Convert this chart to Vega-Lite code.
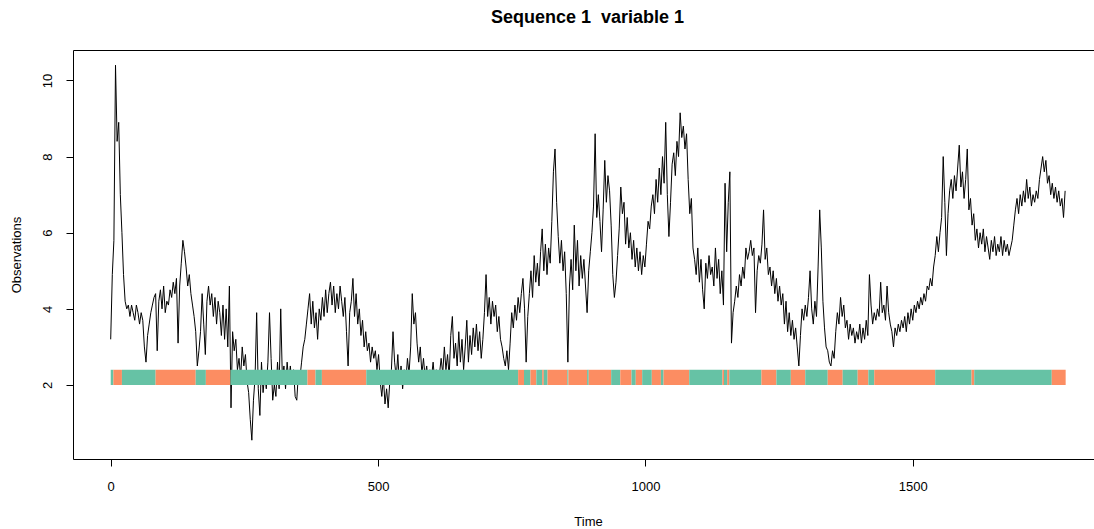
{
"$schema":"https://vega.github.io/schema/vega-lite/v6.json",
"autosize":{"type":"none"},
"width":1021,"height":409,
"padding":{"left":73,"top":50,"right":0,"bottom":70},
"background":"white",
"config":{"view":{"stroke":null},"font":"Liberation Sans"},
"datasets":{
"series":[
{"t":0,"v":3.2},{"t":3,"v":4.9},{"t":6,"v":5.8},{"t":9,"v":10.4},{"t":12,"v":8.4},{"t":15,"v":8.9},{"t":18,"v":7.0},{"t":21,"v":6.0},{"t":24,"v":4.9},{"t":27,"v":4.2},{"t":30,"v":4.0},{"t":33,"v":4.1},{"t":36,"v":3.8},{"t":39,"v":4.1},{"t":42,"v":3.9},{"t":45,"v":3.7},{"t":48,"v":4.1},{"t":51,"v":3.9},{"t":54,"v":3.6},{"t":57,"v":3.9},{"t":60,"v":3.7},{"t":63,"v":3.0},{"t":66,"v":2.6},{"t":69,"v":3.3},{"t":72,"v":3.6},{"t":75,"v":3.9},{"t":78,"v":4.1},{"t":81,"v":4.3},{"t":84,"v":4.4},{"t":87,"v":2.9},{"t":90,"v":4.2},{"t":93,"v":4.5},{"t":96,"v":4.0},{"t":99,"v":4.6},{"t":102,"v":3.9},{"t":105,"v":4.2},{"t":108,"v":4.1},{"t":111,"v":4.5},{"t":114,"v":4.3},{"t":117,"v":4.7},{"t":120,"v":4.4},{"t":123,"v":4.8},{"t":126,"v":3.1},{"t":129,"v":4.6},{"t":132,"v":5.2},{"t":135,"v":5.8},{"t":138,"v":5.5},{"t":141,"v":5.1},{"t":144,"v":4.6},{"t":147,"v":4.9},{"t":150,"v":4.4},{"t":153,"v":4.1},{"t":156,"v":3.8},{"t":159,"v":3.4},{"t":162,"v":2.5},{"t":165,"v":2.9},{"t":168,"v":3.4},{"t":171,"v":4.4},{"t":174,"v":3.6},{"t":177,"v":2.8},{"t":180,"v":4.2},{"t":183,"v":4.6},{"t":186,"v":4.1},{"t":189,"v":4.4},{"t":192,"v":3.8},{"t":195,"v":4.3},{"t":198,"v":3.6},{"t":201,"v":4.2},{"t":204,"v":3.9},{"t":207,"v":3.3},{"t":210,"v":4.1},{"t":213,"v":3.2},{"t":216,"v":4.0},{"t":219,"v":3.0},{"t":222,"v":4.6},{"t":225,"v":1.4},{"t":228,"v":3.4},{"t":231,"v":2.9},{"t":234,"v":3.2},{"t":237,"v":2.4},{"t":240,"v":2.7},{"t":243,"v":2.2},{"t":246,"v":3.0},{"t":249,"v":2.5},{"t":252,"v":2.8},{"t":255,"v":2.1},{"t":258,"v":1.8},{"t":261,"v":1.1},{"t":264,"v":0.55},{"t":267,"v":1.6},{"t":270,"v":2.2},{"t":273,"v":3.9},{"t":276,"v":1.9},{"t":279,"v":1.2},{"t":282,"v":2.6},{"t":285,"v":1.8},{"t":288,"v":2.3},{"t":291,"v":1.9},{"t":294,"v":2.6},{"t":297,"v":3.9},{"t":300,"v":2.7},{"t":303,"v":1.6},{"t":306,"v":2.0},{"t":309,"v":1.7},{"t":312,"v":2.6},{"t":315,"v":1.9},{"t":318,"v":4.0},{"t":321,"v":2.2},{"t":324,"v":2.5},{"t":327,"v":1.9},{"t":330,"v":2.6},{"t":333,"v":2.1},{"t":336,"v":2.5},{"t":339,"v":2.0},{"t":342,"v":2.4},{"t":345,"v":1.7},{"t":348,"v":1.6},{"t":351,"v":2.3},{"t":354,"v":2.2},{"t":357,"v":2.6},{"t":360,"v":3.0},{"t":363,"v":3.2},{"t":366,"v":3.6},{"t":369,"v":4.0},{"t":372,"v":4.4},{"t":375,"v":3.6},{"t":378,"v":4.2},{"t":381,"v":3.5},{"t":384,"v":3.9},{"t":387,"v":3.2},{"t":390,"v":4.0},{"t":393,"v":3.7},{"t":396,"v":4.3},{"t":399,"v":3.8},{"t":402,"v":4.5},{"t":405,"v":3.9},{"t":408,"v":4.4},{"t":411,"v":4.7},{"t":414,"v":4.1},{"t":417,"v":4.6},{"t":420,"v":3.9},{"t":423,"v":4.4},{"t":426,"v":4.0},{"t":429,"v":4.6},{"t":432,"v":4.2},{"t":435,"v":3.8},{"t":438,"v":4.3},{"t":441,"v":3.4},{"t":444,"v":2.5},{"t":447,"v":3.9},{"t":450,"v":4.2},{"t":453,"v":4.8},{"t":456,"v":3.8},{"t":459,"v":4.4},{"t":462,"v":3.6},{"t":465,"v":4.0},{"t":468,"v":3.3},{"t":471,"v":3.7},{"t":474,"v":3.0},{"t":477,"v":3.4},{"t":480,"v":2.9},{"t":483,"v":3.1},{"t":486,"v":2.6},{"t":489,"v":3.0},{"t":492,"v":2.7},{"t":495,"v":2.9},{"t":498,"v":2.4},{"t":501,"v":2.8},{"t":504,"v":2.1},{"t":507,"v":1.7},{"t":510,"v":2.2},{"t":513,"v":1.5},{"t":516,"v":1.9},{"t":519,"v":1.4},{"t":522,"v":2.1},{"t":525,"v":2.4},{"t":528,"v":3.4},{"t":531,"v":2.6},{"t":534,"v":2.2},{"t":537,"v":2.8},{"t":540,"v":2.0},{"t":543,"v":2.5},{"t":546,"v":1.9},{"t":549,"v":2.4},{"t":552,"v":2.1},{"t":555,"v":2.7},{"t":558,"v":2.3},{"t":561,"v":3.0},{"t":564,"v":4.4},{"t":567,"v":3.6},{"t":570,"v":3.9},{"t":573,"v":3.1},{"t":576,"v":2.6},{"t":579,"v":3.0},{"t":582,"v":2.3},{"t":585,"v":2.7},{"t":588,"v":2.2},{"t":591,"v":2.5},{"t":594,"v":2.0},{"t":597,"v":2.4},{"t":600,"v":2.2},{"t":603,"v":2.6},{"t":606,"v":2.1},{"t":609,"v":2.4},{"t":612,"v":2.0},{"t":615,"v":2.3},{"t":618,"v":2.7},{"t":621,"v":2.3},{"t":624,"v":3.0},{"t":627,"v":2.4},{"t":630,"v":2.8},{"t":633,"v":2.2},{"t":636,"v":3.3},{"t":639,"v":3.8},{"t":642,"v":2.7},{"t":645,"v":3.1},{"t":648,"v":2.5},{"t":651,"v":3.4},{"t":654,"v":2.6},{"t":657,"v":3.2},{"t":660,"v":2.4},{"t":663,"v":3.0},{"t":666,"v":3.7},{"t":669,"v":2.6},{"t":672,"v":3.3},{"t":675,"v":2.8},{"t":678,"v":3.5},{"t":681,"v":3.0},{"t":684,"v":3.6},{"t":687,"v":2.9},{"t":690,"v":3.4},{"t":693,"v":2.7},{"t":696,"v":3.2},{"t":699,"v":3.9},{"t":702,"v":4.9},{"t":705,"v":3.8},{"t":708,"v":4.3},{"t":711,"v":3.6},{"t":714,"v":4.2},{"t":717,"v":3.8},{"t":720,"v":4.1},{"t":723,"v":3.4},{"t":726,"v":3.8},{"t":729,"v":3.2},{"t":732,"v":3.0},{"t":735,"v":2.7},{"t":738,"v":2.5},{"t":741,"v":2.9},{"t":744,"v":2.4},{"t":747,"v":3.1},{"t":750,"v":3.9},{"t":753,"v":3.5},{"t":756,"v":4.1},{"t":759,"v":3.7},{"t":762,"v":4.3},{"t":765,"v":3.9},{"t":768,"v":4.4},{"t":771,"v":4.8},{"t":774,"v":4.0},{"t":777,"v":2.6},{"t":780,"v":3.8},{"t":783,"v":4.4},{"t":786,"v":5.0},{"t":789,"v":4.3},{"t":792,"v":5.4},{"t":795,"v":4.7},{"t":798,"v":5.2},{"t":801,"v":4.6},{"t":804,"v":5.5},{"t":807,"v":6.1},{"t":810,"v":5.0},{"t":813,"v":5.7},{"t":816,"v":4.9},{"t":819,"v":5.6},{"t":822,"v":5.2},{"t":825,"v":6.3},{"t":828,"v":7.6},{"t":831,"v":8.2},{"t":834,"v":6.8},{"t":837,"v":5.9},{"t":840,"v":5.2},{"t":843,"v":5.8},{"t":846,"v":5.0},{"t":849,"v":5.5},{"t":852,"v":4.4},{"t":855,"v":2.6},{"t":858,"v":4.6},{"t":861,"v":5.3},{"t":864,"v":4.5},{"t":867,"v":6.2},{"t":870,"v":5.0},{"t":873,"v":5.8},{"t":876,"v":4.6},{"t":879,"v":5.4},{"t":882,"v":4.8},{"t":885,"v":5.3},{"t":888,"v":4.6},{"t":891,"v":3.9},{"t":894,"v":5.0},{"t":897,"v":5.5},{"t":900,"v":6.0},{"t":903,"v":6.7},{"t":906,"v":8.6},{"t":909,"v":6.4},{"t":912,"v":7.0},{"t":915,"v":6.3},{"t":918,"v":5.5},{"t":921,"v":6.6},{"t":924,"v":7.9},{"t":927,"v":6.8},{"t":930,"v":7.5},{"t":933,"v":7.1},{"t":936,"v":6.2},{"t":939,"v":4.9},{"t":942,"v":4.3},{"t":945,"v":4.7},{"t":948,"v":5.4},{"t":951,"v":6.1},{"t":954,"v":7.2},{"t":957,"v":6.5},{"t":960,"v":6.8},{"t":963,"v":5.7},{"t":966,"v":6.4},{"t":969,"v":5.6},{"t":972,"v":6.0},{"t":975,"v":5.3},{"t":978,"v":5.8},{"t":981,"v":5.1},{"t":984,"v":5.6},{"t":987,"v":5.0},{"t":990,"v":5.5},{"t":993,"v":4.9},{"t":996,"v":5.4},{"t":999,"v":5.1},{"t":1002,"v":5.7},{"t":1005,"v":6.3},{"t":1008,"v":6.1},{"t":1011,"v":6.7},{"t":1014,"v":7.0},{"t":1017,"v":6.5},{"t":1020,"v":7.4},{"t":1023,"v":6.8},{"t":1026,"v":7.7},{"t":1029,"v":7.0},{"t":1032,"v":8.0},{"t":1035,"v":7.3},{"t":1038,"v":8.9},{"t":1041,"v":7.0},{"t":1044,"v":5.9},{"t":1047,"v":6.8},{"t":1050,"v":7.8},{"t":1053,"v":8.1},{"t":1056,"v":7.5},{"t":1059,"v":8.4},{"t":1062,"v":8.0},{"t":1065,"v":9.15},{"t":1068,"v":8.5},{"t":1071,"v":8.8},{"t":1074,"v":8.2},{"t":1077,"v":8.6},{"t":1080,"v":7.4},{"t":1083,"v":6.5},{"t":1086,"v":6.9},{"t":1089,"v":5.6},{"t":1092,"v":5.3},{"t":1095,"v":4.9},{"t":1098,"v":5.6},{"t":1101,"v":4.7},{"t":1104,"v":5.3},{"t":1107,"v":4.5},{"t":1110,"v":4.0},{"t":1113,"v":5.2},{"t":1116,"v":4.8},{"t":1119,"v":5.4},{"t":1122,"v":4.9},{"t":1125,"v":5.1},{"t":1128,"v":4.6},{"t":1131,"v":5.6},{"t":1134,"v":4.8},{"t":1137,"v":5.3},{"t":1140,"v":4.4},{"t":1143,"v":5.0},{"t":1146,"v":4.1},{"t":1149,"v":7.3},{"t":1152,"v":5.5},{"t":1155,"v":6.8},{"t":1158,"v":7.6},{"t":1161,"v":3.1},{"t":1164,"v":3.9},{"t":1167,"v":4.2},{"t":1170,"v":4.6},{"t":1173,"v":4.3},{"t":1176,"v":4.9},{"t":1179,"v":4.6},{"t":1182,"v":5.1},{"t":1185,"v":4.8},{"t":1188,"v":5.6},{"t":1191,"v":5.3},{"t":1194,"v":5.5},{"t":1197,"v":5.8},{"t":1200,"v":5.4},{"t":1203,"v":5.6},{"t":1206,"v":3.9},{"t":1209,"v":5.0},{"t":1212,"v":5.4},{"t":1215,"v":5.2},{"t":1218,"v":5.7},{"t":1221,"v":6.6},{"t":1224,"v":5.3},{"t":1227,"v":5.6},{"t":1230,"v":4.9},{"t":1233,"v":5.1},{"t":1236,"v":4.6},{"t":1239,"v":5.0},{"t":1242,"v":4.4},{"t":1245,"v":4.8},{"t":1248,"v":4.2},{"t":1251,"v":4.6},{"t":1254,"v":4.1},{"t":1257,"v":4.4},{"t":1260,"v":3.6},{"t":1263,"v":4.2},{"t":1266,"v":3.4},{"t":1269,"v":3.9},{"t":1272,"v":3.3},{"t":1275,"v":3.7},{"t":1278,"v":3.2},{"t":1281,"v":3.5},{"t":1284,"v":3.0},{"t":1287,"v":2.5},{"t":1290,"v":3.3},{"t":1293,"v":4.0},{"t":1296,"v":3.7},{"t":1299,"v":4.1},{"t":1302,"v":3.8},{"t":1305,"v":4.3},{"t":1308,"v":5.0},{"t":1311,"v":4.0},{"t":1314,"v":3.6},{"t":1317,"v":4.2},{"t":1320,"v":3.8},{"t":1323,"v":5.1},{"t":1326,"v":6.6},{"t":1329,"v":5.6},{"t":1332,"v":4.2},{"t":1335,"v":3.5},{"t":1338,"v":3.0},{"t":1341,"v":2.9},{"t":1344,"v":2.6},{"t":1347,"v":2.5},{"t":1350,"v":2.9},{"t":1353,"v":2.7},{"t":1356,"v":3.4},{"t":1359,"v":3.9},{"t":1362,"v":3.6},{"t":1365,"v":4.3},{"t":1368,"v":3.8},{"t":1371,"v":4.1},{"t":1374,"v":3.5},{"t":1377,"v":3.7},{"t":1380,"v":3.2},{"t":1383,"v":3.6},{"t":1386,"v":3.3},{"t":1389,"v":3.5},{"t":1392,"v":3.1},{"t":1395,"v":3.4},{"t":1398,"v":3.2},{"t":1401,"v":3.6},{"t":1404,"v":3.1},{"t":1407,"v":3.5},{"t":1410,"v":3.2},{"t":1413,"v":3.7},{"t":1416,"v":3.3},{"t":1419,"v":4.9},{"t":1422,"v":4.1},{"t":1425,"v":3.6},{"t":1428,"v":3.9},{"t":1431,"v":3.7},{"t":1434,"v":4.0},{"t":1437,"v":3.8},{"t":1440,"v":4.7},{"t":1443,"v":3.9},{"t":1446,"v":4.1},{"t":1449,"v":3.7},{"t":1452,"v":4.6},{"t":1455,"v":3.9},{"t":1458,"v":3.6},{"t":1461,"v":3.4},{"t":1464,"v":3.0},{"t":1467,"v":3.5},{"t":1470,"v":3.3},{"t":1473,"v":3.6},{"t":1476,"v":3.4},{"t":1479,"v":3.7},{"t":1482,"v":3.5},{"t":1485,"v":3.8},{"t":1488,"v":3.4},{"t":1491,"v":3.9},{"t":1494,"v":3.6},{"t":1497,"v":4.0},{"t":1500,"v":3.7},{"t":1503,"v":4.1},{"t":1506,"v":3.9},{"t":1509,"v":4.2},{"t":1512,"v":4.0},{"t":1515,"v":4.3},{"t":1518,"v":4.1},{"t":1521,"v":4.4},{"t":1524,"v":4.2},{"t":1527,"v":4.6},{"t":1530,"v":4.5},{"t":1533,"v":4.8},{"t":1536,"v":4.6},{"t":1539,"v":5.1},{"t":1542,"v":5.4},{"t":1545,"v":5.9},{"t":1548,"v":5.5},{"t":1551,"v":6.0},{"t":1554,"v":6.4},{"t":1557,"v":8.0},{"t":1560,"v":6.8},{"t":1563,"v":5.4},{"t":1566,"v":6.5},{"t":1569,"v":7.1},{"t":1572,"v":7.4},{"t":1575,"v":6.9},{"t":1578,"v":7.5},{"t":1581,"v":7.1},{"t":1584,"v":7.7},{"t":1587,"v":8.3},{"t":1590,"v":7.2},{"t":1593,"v":7.6},{"t":1596,"v":6.9},{"t":1599,"v":7.4},{"t":1602,"v":8.2},{"t":1605,"v":6.6},{"t":1608,"v":6.9},{"t":1611,"v":6.2},{"t":1614,"v":6.5},{"t":1617,"v":5.8},{"t":1620,"v":6.1},{"t":1623,"v":5.6},{"t":1626,"v":6.0},{"t":1629,"v":5.7},{"t":1632,"v":6.1},{"t":1635,"v":5.5},{"t":1638,"v":5.9},{"t":1641,"v":5.6},{"t":1644,"v":5.3},{"t":1647,"v":5.8},{"t":1650,"v":5.5},{"t":1653,"v":5.9},{"t":1656,"v":5.4},{"t":1659,"v":5.7},{"t":1662,"v":5.5},{"t":1665,"v":5.9},{"t":1668,"v":5.4},{"t":1671,"v":5.8},{"t":1674,"v":5.5},{"t":1677,"v":5.7},{"t":1680,"v":5.4},{"t":1683,"v":5.6},{"t":1686,"v":5.8},{"t":1689,"v":6.2},{"t":1692,"v":6.6},{"t":1695,"v":6.9},{"t":1698,"v":6.5},{"t":1701,"v":7.0},{"t":1704,"v":6.7},{"t":1707,"v":7.1},{"t":1710,"v":6.8},{"t":1713,"v":7.4},{"t":1716,"v":6.9},{"t":1719,"v":7.2},{"t":1722,"v":6.7},{"t":1725,"v":7.0},{"t":1728,"v":6.8},{"t":1731,"v":7.1},{"t":1734,"v":6.9},{"t":1737,"v":7.4},{"t":1740,"v":7.7},{"t":1743,"v":8.0},{"t":1746,"v":7.6},{"t":1749,"v":7.9},{"t":1752,"v":7.3},{"t":1755,"v":7.5},{"t":1758,"v":7.0},{"t":1761,"v":7.3},{"t":1764,"v":6.9},{"t":1767,"v":7.2},{"t":1770,"v":6.8},{"t":1773,"v":7.1},{"t":1776,"v":6.7},{"t":1779,"v":6.9},{"t":1782,"v":6.4},{"t":1785,"v":7.1}
],
"states":[
{"s":0,"e":5,"state":"1"},{"s":5,"e":21,"state":"2"},{"s":21,"e":84,"state":"1"},{"s":84,"e":159,"state":"2"},{"s":159,"e":178,"state":"1"},{"s":178,"e":224,"state":"2"},{"s":224,"e":368,"state":"1"},{"s":368,"e":383,"state":"2"},{"s":383,"e":395,"state":"1"},{"s":395,"e":478,"state":"2"},{"s":478,"e":762,"state":"1"},{"s":762,"e":773,"state":"2"},{"s":773,"e":785,"state":"1"},{"s":785,"e":796,"state":"2"},{"s":796,"e":807,"state":"1"},{"s":807,"e":810,"state":"2"},{"s":810,"e":817,"state":"1"},{"s":817,"e":854,"state":"2"},{"s":854,"e":856,"state":"1"},{"s":856,"e":891,"state":"2"},{"s":891,"e":894,"state":"1"},{"s":894,"e":936,"state":"2"},{"s":936,"e":953,"state":"1"},{"s":953,"e":974,"state":"2"},{"s":974,"e":982,"state":"1"},{"s":982,"e":994,"state":"2"},{"s":994,"e":1012,"state":"1"},{"s":1012,"e":1029,"state":"2"},{"s":1029,"e":1034,"state":"1"},{"s":1034,"e":1082,"state":"2"},{"s":1082,"e":1144,"state":"1"},{"s":1144,"e":1147,"state":"2"},{"s":1147,"e":1153,"state":"1"},{"s":1153,"e":1157,"state":"2"},{"s":1157,"e":1217,"state":"1"},{"s":1217,"e":1245,"state":"2"},{"s":1245,"e":1272,"state":"1"},{"s":1272,"e":1299,"state":"2"},{"s":1299,"e":1341,"state":"1"},{"s":1341,"e":1369,"state":"2"},{"s":1369,"e":1397,"state":"1"},{"s":1397,"e":1417,"state":"2"},{"s":1417,"e":1428,"state":"1"},{"s":1428,"e":1542,"state":"2"},{"s":1542,"e":1610,"state":"1"},{"s":1610,"e":1615,"state":"2"},{"s":1615,"e":1760,"state":"1"},{"s":1760,"e":1786,"state":"2"}
]
},
"resolve":{"axis":{"x":"independent"}},
"layer":[
{
"data":{"name":"series"},
"mark":{"type":"line","color":"black","strokeWidth":1,"interpolate":"linear"},
"encoding":{
"x":{"field":"t","type":"quantitative","scale":{"domain":[-70.5,1839],"nice":false,"zero":false},
"axis":{"orient":"bottom","values":[0,500,1000,1500],"format":"d","title":"Time","grid":false,"tickSize":7,"tickColor":"black","tickWidth":1,"domainColor":"black","domainWidth":1,"labelFont":"Liberation Sans","labelFontSize":13,"labelColor":"black","labelBaseline":"alphabetic","labelPadding":24,"labelFlush":false,"labelOverlap":false,"titleFont":"Liberation Sans","titleFontSize":13,"titleFontWeight":"normal","titleColor":"black","titleBaseline":"alphabetic","titleY":66,"titleX":515}},
"y":{"field":"v","type":"quantitative","scale":{"domain":[0.056,10.8],"nice":false,"zero":false},
"axis":{"orient":"left","values":[2,4,6,8,10],"format":"d","title":"Observations","grid":false,"tickSize":7,"tickColor":"black","tickWidth":1,"domain":true,"domainColor":"black","domainWidth":1,"labelFont":"Liberation Sans","labelFontSize":13,"labelColor":"black","labelAngle":-90,"labelAlign":"center","labelBaseline":"alphabetic","labelPadding":15,"labelOverlap":false,"titleFont":"Liberation Sans","titleFontSize":13,"titleFontWeight":"normal","titleColor":"black","titleAngle":-90,"titleAlign":"center","titleBaseline":"alphabetic","titleX":-53,"titleY":204.5}}
}
},
{
"data":{"name":"states"},
"mark":{"type":"rect"},
"encoding":{
"x":{"field":"s","type":"quantitative","scale":{"domain":[-70.5,1839],"nice":false,"zero":false},
"axis":{"orient":"top","labels":false,"ticks":false,"grid":false,"domain":true,"domainColor":"black","domainWidth":1,"title":"Sequence 1\u00a0 variable 1","titleFont":"Liberation Sans","titleFontSize":18,"titleFontWeight":"bold","titleColor":"black","titleBaseline":"alphabetic","titleAlign":"center","titleX":514,"titleY":-27.5}},
"x2":{"field":"e"},
"y":{"datum":2,"type":"quantitative",
"axis":{"orient":"left","values":[2,4,6,8,10],"format":"d","title":"Observations","grid":false,"tickSize":7,"tickColor":"black","tickWidth":1,"domain":true,"domainColor":"black","domainWidth":1,"labelFont":"Liberation Sans","labelFontSize":13,"labelColor":"black","labelAngle":-90,"labelAlign":"center","labelBaseline":"alphabetic","labelPadding":15,"labelOverlap":false,"titleFont":"Liberation Sans","titleFontSize":13,"titleFontWeight":"normal","titleColor":"black","titleAngle":-90,"titleAlign":"center","titleBaseline":"alphabetic","titleX":-53,"titleY":204.5}},
"y2":{"datum":2.4},
"color":{"field":"state","type":"nominal","scale":{"domain":["1","2"],"range":["#66C2A5","#FC8D62"]},"legend":null}
}
}
]
}
